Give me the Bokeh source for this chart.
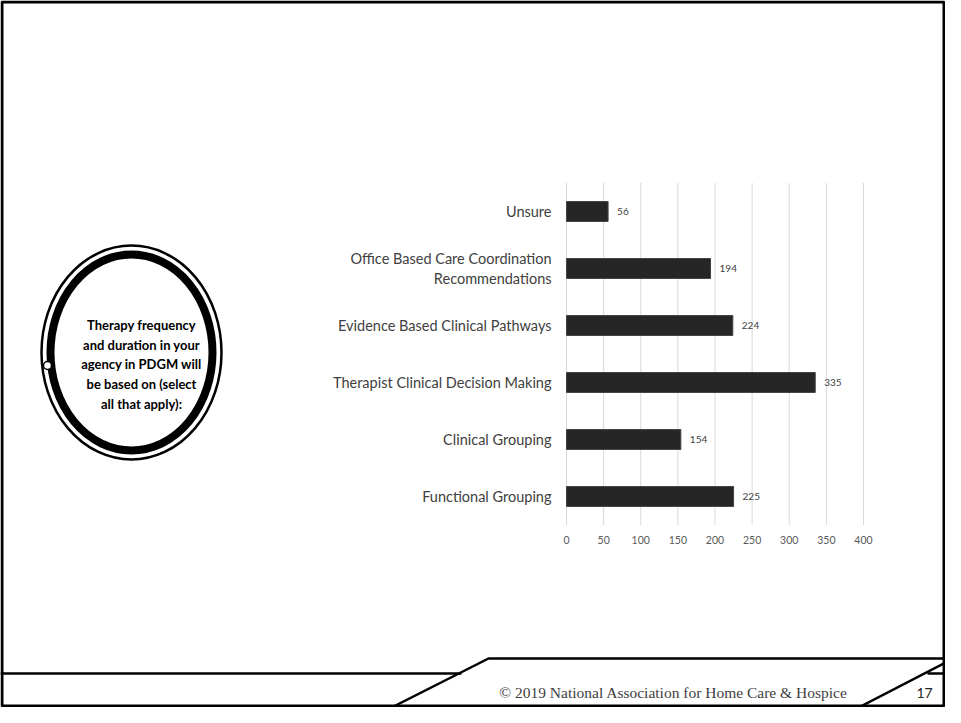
from bokeh.plotting import figure
from bokeh.models import Range1d, ColumnDataSource
from bokeh.core.properties import value
from bokeh.embed import file_html
from bokeh.resources import INLINE

# ---- data ----
categories = [
    "Functional Grouping",
    "Clinical Grouping",
    "Therapist Clinical Decision Making",
    "Evidence Based Clinical Pathways",
    "Office Based Care Coordination\nRecommendations",
    "Unsure",
]
counts = [225, 154, 335, 224, 194, 56]
x_ticks = [0, 50, 100, 150, 200, 250, 300, 350, 400]
tick_labels = [str(t) for t in x_ticks]
question = "Therapy frequency\nand duration in your\nagency in PDGM will\nbe based on (select\nall that apply):"
footer_text = "\u00a9 2019 National Association for Home Care & Hospice"
page_number = "17"

# ---- layout (pixels) ----
W, H = 945, 707
X_ZERO, X_MAX = 566.0, 863.0          # pixel of value 0 and 400
Y_BOTTOM_ROW, ROW_STEP = 496.0, 57.0  # pixel centre of first row and row spacing
ppu = (X_MAX - X_ZERO) / 400.0

p = figure(width=W, height=H, output_backend="svg", toolbar_location=None,
           x_range=Range1d(0, W), y_range=Range1d(H, 0),
           x_axis_location=None, y_axis_location=None, min_border=0,
           background_fill_color="white", border_fill_color="white")
p.grid.visible = False
p.outline_line_color = None

p.extra_x_ranges = {"val": Range1d((0 - X_ZERO) / ppu, (W - X_ZERO) / ppu)}
p.extra_y_ranges = {"cat": Range1d((Y_BOTTOM_ROW - H) / ROW_STEP,
                                   (Y_BOTTOM_ROW - 0) / ROW_STEP)}

idx = list(range(len(categories)))
src = ColumnDataSource(dict(idx=idx, cat=categories, val=counts,
                            lab=[str(v) for v in counts]))

# gridlines
p.segment(x0=x_ticks, x1=x_ticks, y0=-0.5, y1=len(categories) - 0.5,
          x_range_name="val", y_range_name="cat",
          line_color="#d9d9d9", line_width=1)

# bars
p.hbar(y="idx", left=0, right="val", height=0.35, source=src,
       x_range_name="val", y_range_name="cat",
       fill_color="#262626", line_color="#444444", line_width=1)

# value labels
p.text(x="val", y="idx", text="lab", source=src, x_range_name="val", y_range_name="cat",
       x_offset=9, text_align="left", text_baseline="middle",
       text_font=value("Lato"), text_font_size="10px", text_color="#404040")

# category labels
p.text(x=0, y="idx", text="cat", source=src, x_range_name="val", y_range_name="cat",
       x_offset=-15, text_align="right", text_baseline="middle",
       text_font=value("Lato"), text_font_size="14.5px", text_color="#404040",
       text_line_height=1.2)

# x tick labels
p.text(x=x_ticks, y=[-0.5] * len(x_ticks), text=tick_labels,
       x_range_name="val", y_range_name="cat", y_offset=15,
       text_align="center", text_baseline="middle",
       text_font=value("Lato"), text_font_size="10.5px", text_color="#595959")

# ---- decorations (pixel coordinates) ----
p.ellipse(x=131, y=352, width=180, height=214, fill_color=None,
          line_color="black", line_width=2.5)
p.ellipse(x=131, y=352, width=162, height=196, fill_color=None,
          line_color="black", line_width=8)
p.scatter(x=[47], y=[365], size=8, marker="circle", fill_color="white",
          line_color="black", line_width=1.5)
p.text(x=141, y=364, text=[question], text_align="center", text_baseline="middle",
       text_font=value("Lato"), text_font_size="13px", text_font_style="bold",
       text_color="black", text_line_height=1.24)

# footer
p.segment(x0=[0, 927], y0=[673, 673], x1=[461, W], y1=[673, 673],
          line_color="black", line_width=2.5)
p.line(x=[393, 488, W, W], y=[706, 658, 658, 658], line_color="black", line_width=2.5)
p.line(x=[W, 860], y=[662, 706], line_color="black", line_width=2.5)
p.text(x=673, y=692, text=[footer_text], text_align="center", text_baseline="middle",
       text_font=value("Liberation Serif"), text_font_size="15.5px", text_color="#404040")
p.text(x=924, y=692, text=[page_number], text_align="center", text_baseline="middle",
       text_font=value("Lato"), text_font_size="14px", text_color="#262626")

# slide border
p.quad(left=[1.5], right=[W - 1.5], top=[1.5], bottom=[H - 1.5],
       fill_color=None, line_color="black", line_width=3)

open("out.html", "w").write(file_html(p, INLINE))
